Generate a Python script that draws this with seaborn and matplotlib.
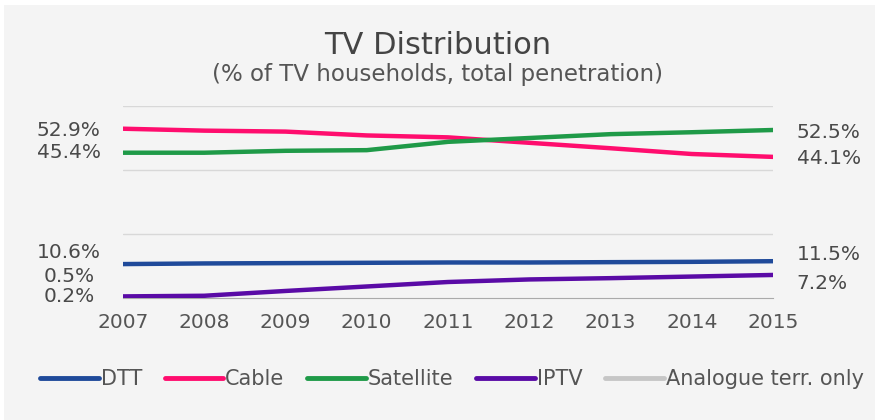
import numpy as np
import pandas as pd
import matplotlib
matplotlib.use("Agg")
import matplotlib.pyplot as plt
from matplotlib.patches import Rectangle
from matplotlib.lines import Line2D
import seaborn as sns

# --- data ---
years = [2007, 2008, 2009, 2010, 2011, 2012, 2013, 2014, 2015]
dtt = [10.6, 10.8, 10.9, 11.0, 11.1, 11.1, 11.2, 11.3, 11.5]
cable = [52.9, 52.3, 52.0, 50.8, 50.2, 48.5, 46.8, 45.0, 44.1]
satellite = [45.4, 45.4, 46.0, 46.2, 48.8, 50.0, 51.2, 51.8, 52.5]
iptv = [0.5, 0.7, 2.2, 3.6, 5.0, 5.8, 6.2, 6.7, 7.2]
analogue = [0.2, 0.1, np.nan, np.nan, np.nan, np.nan, np.nan, np.nan, np.nan]

series_names = ["DTT", "Cable", "Satellite", "IPTV", "Analogue terr. only"]
series_values = [dtt, cable, satellite, iptv, analogue]
colors = ["#1f4a9a", "#ff0d6e", "#1f9a48", "#5a0ba6", "#c6c6c6"]

# start / end labels as printed in the chart
left_labels = {"Cable": "52.9%", "Satellite": "45.4%", "DTT": "10.6%",
               "IPTV": "0.5%", "Analogue terr. only": "0.2%"}
right_labels = {"Satellite": "52.5%", "Cable": "44.1%", "DTT": "11.5%",
                "IPTV": "7.2%"}

rows = []
for name, vals in zip(series_names, series_values):
    for yr, v in zip(years, vals):
        rows.append({"year": yr, "value": v, "series": name})
df = pd.DataFrame(rows)

sns.set_style("white")
plt.rcParams["font.family"] = ["DejaVu Sans"]

fig = plt.figure(figsize=(8.75, 4.2), dpi=100)
fig.patch.set_facecolor("white")
fig.patches.append(Rectangle((4 / 875, 0), 1, 1 - 5 / 420, transform=fig.transFigure,
                             facecolor="#f4f4f4", edgecolor="none", zorder=-10))

ax = fig.add_axes([123 / 875, 1 - 298 / 420, 650 / 875, 192 / 420])
ax.set_facecolor("none")

palette = dict(zip(series_names, colors))
sns.lineplot(data=df, x="year", y="value", hue="series", hue_order=series_names,
             palette=palette, linewidth=3.2, ax=ax, legend=False)
for line, name in zip(ax.lines, series_names):
    line.set_solid_capstyle("round")
    line.set_zorder(2 if name == "Analogue terr. only" else 3)

ax.set_xlim(2007, 2015)
ax.set_ylim(0, 60)
ax.set_xticks(years)
ax.set_yticks([20, 40, 60])
ax.yaxis.grid(True, color="#d8d8d8", linewidth=1)
ax.set_axisbelow(True)
ax.tick_params(axis="y", left=False, labelleft=False)
ax.tick_params(axis="x", direction="out", length=6, width=1, color="#999999",
               labelsize=14.5, labelcolor="#555555", pad=5)
for s in ["top", "left", "right"]:
    ax.spines[s].set_visible(False)
ax.spines["bottom"].set_color("#aaaaaa")
ax.set_xlabel("")
ax.set_ylabel("")

# value labels at both ends
left_dy = {"Cable": -1, "Satellite": 0, "DTT": 8, "IPTV": 14.5, "Analogue terr. only": 0.5}
right_dy = {"Satellite": -1.5, "Cable": -1, "DTT": 5, "IPTV": -6}
for name, vals in zip(series_names, series_values):
    if name in left_labels:
        ax.annotate(left_labels[name], xy=(years[0], vals[0]), xytext=(-39, left_dy[name]),
                    textcoords="offset points", ha="center", va="center",
                    fontsize=14.5, color="#4a4a4a", annotation_clip=False)
    if name in right_labels:
        ax.annotate(right_labels[name], xy=(years[-1], vals[-1]), xytext=(17, right_dy[name]),
                    textcoords="offset points", ha="left", va="center",
                    fontsize=14.5, color="#4a4a4a", annotation_clip=False)

fig.text(0.5, 1 - 45 / 420, "TV Distribution", ha="center", va="center",
         fontsize=22, color="#444444")
fig.text(0.5, 1 - 74 / 420, "(% of TV households, total penetration)", ha="center",
         va="center", fontsize=16.5, color="#555555")

handles = [Line2D([0], [0], color=c, lw=3.5, solid_capstyle="round") for c in colors]
fig.legend(handles, series_names, loc="center", bbox_to_anchor=(452 / 875, 1 - 379 / 420),
           ncol=5, frameon=False, fontsize=15, handlelength=2.8, handletextpad=0.1,
           columnspacing=1.1, labelcolor="#555555")

fig.savefig("out.png", dpi=100, facecolor=fig.get_facecolor())
